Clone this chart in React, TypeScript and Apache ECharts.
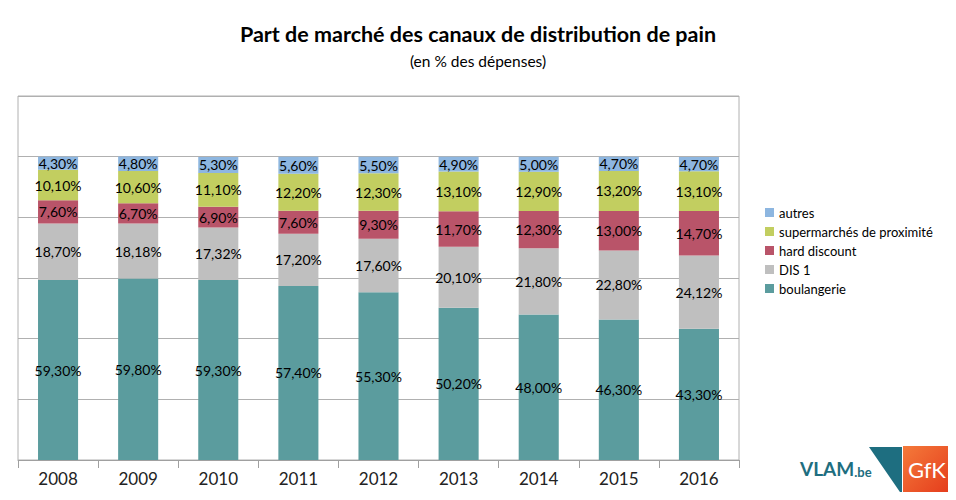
import React, { useEffect, useRef } from "react";
import * as echarts from "echarts";

const years = ["2008", "2009", "2010", "2011", "2012", "2013", "2014", "2015", "2016"];
const boulangerie = [59.3, 59.8, 59.3, 57.4, 55.3, 50.2, 48.0, 46.3, 43.3];
const dis1 = [18.7, 18.18, 17.32, 17.2, 17.6, 20.1, 21.8, 22.8, 24.12];
const hardDiscount = [7.6, 6.7, 6.9, 7.6, 9.3, 11.7, 12.3, 13.0, 14.7];
const supermarches = [10.1, 10.6, 11.1, 12.2, 12.3, 13.1, 12.9, 13.2, 13.1];
const autres = [4.3, 4.8, 5.3, 5.6, 5.5, 4.9, 5.0, 4.7, 4.7];

const FONT = "Lato, 'DejaVu Sans', sans-serif";

const fmt = (p: any) => Number(p.value).toFixed(2).replace(".", ",") + "%";

export default function App() {
  const ref = useRef<HTMLDivElement>(null);
  useEffect(() => {
    if (!ref.current) return;
    const chart = echarts.init(ref.current, null, { renderer: "svg" });
    const mk = (name: string, data: number[], color: string) => ({
      name,
      type: "bar",
      stack: "total",
      barWidth: "50%",
      data,
      itemStyle: { color },
      label: {
        show: true,
        position: "inside",
        formatter: fmt,
        color: "#000",
        fontSize: 14,
        fontFamily: FONT,
      },
    });
    chart.setOption({
      animation: false,
      textStyle: { fontFamily: FONT },
      title: [
        {
          text: "Part de marché des canaux de distribution de pain",
          left: "center",
          top: 18,
          textStyle: { fontSize: 21.5, fontWeight: "bold", color: "#000", fontFamily: FONT },
        },
        {
          text: "(en % des dépenses)",
          left: "center",
          top: 48,
          textStyle: { fontSize: 15.5, fontWeight: "normal", color: "#000", fontFamily: FONT },
        },
      ],
      legend: {
        orient: "vertical",
        left: 760,
        top: 201,
        itemWidth: 9,
        itemHeight: 9,
        itemGap: 6,
        icon: "rect",
        data: ["autres", "supermarchés de proximité", "hard discount", "DIS 1", "boulangerie"],
        textStyle: { fontSize: 13, color: "#000", fontFamily: FONT },
      },
      grid: {
        left: 18,
        right: 217,
        top: 96,
        bottom: 40,
        show: true,
        borderColor: "#b0b0b0",
        borderWidth: 1,
      },
      xAxis: {
        type: "category",
        data: years,
        axisLine: { lineStyle: { color: "#a0a0a0" } },
        axisTick: { show: true, length: 8, lineStyle: { color: "#a0a0a0" } },
        axisLabel: { fontSize: 17, color: "#222", margin: 10, fontFamily: FONT },
      },
      yAxis: {
        type: "value",
        min: 0,
        max: 120,
        interval: 20,
        axisLabel: { show: false },
        axisLine: { show: false },
        axisTick: { show: false },
        splitLine: { lineStyle: { color: "#b0b0b0" } },
      },
      series: [
        mk("boulangerie", boulangerie, "#5B9C9E"),
        mk("DIS 1", dis1, "#BFBFBF"),
        mk("hard discount", hardDiscount, "#B95469"),
        mk("supermarchés de proximité", supermarches, "#C2CE60"),
        mk("autres", autres, "#8DB6E0"),
      ],
      graphic: [
        {
          type: "text",
          left: 800,
          top: 459,
          style: {
            text: "{a|VLAM}{b|.be}",
            fill: "#1E6E80",
            fontFamily: FONT,
            rich: {
              a: { fontSize: 19, fontWeight: "bold", fill: "#1E6E80", fontFamily: FONT },
              b: { fontSize: 13, fontWeight: "bold", fill: "#1E6E80", fontFamily: FONT, verticalAlign: "bottom" },
            },
          },
        },
        {
          type: "polygon",
          shape: { points: [[869, 447], [902, 447], [902, 495]] },
          style: { fill: "#1E6E80" },
        },
        {
          type: "rect",
          shape: { x: 903, y: 446, width: 48, height: 50 },
          style: {
            fill: new echarts.graphic.LinearGradient(0, 0, 1, 1, [
              { offset: 0, color: "#F47A3A" },
              { offset: 1, color: "#E4391B" },
            ]),
          },
        },
        {
          type: "text",
          left: 908,
          top: 458,
          style: {
            text: "GfK",
            fontSize: 22,
            fill: "#fff",
            fontFamily: FONT,
          },
        },
      ],
    });
    return () => chart.dispose();
  }, []);
  return <div ref={ref} style={{ width: 956, height: 500, margin: -8 }} />;
}
